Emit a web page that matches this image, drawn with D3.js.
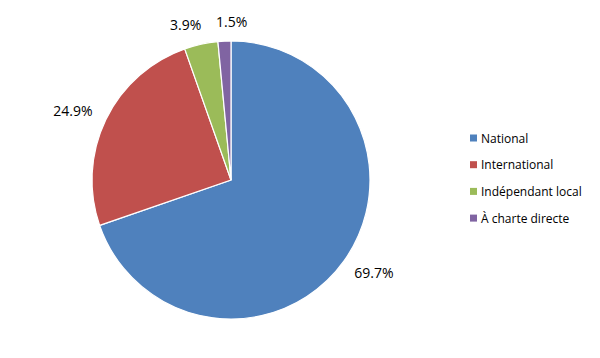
<!DOCTYPE html>
<html><head><meta charset="utf-8">
<script src="https://cdn.jsdelivr.net/npm/d3@7/dist/d3.min.js"></script>
<style>body{margin:0;background:#fff}svg{display:block}text{font-family:"Open Sans","Noto Sans",sans-serif;fill:#000}</style>
</head><body>
<script>
const categories = ["National", "International", "Indépendant local", "À charte directe"];
const values = [69.7, 24.9, 3.9, 1.5];
const labels = ["69.7%", "24.9%", "3.9%", "1.5%"];
const colors = ["#4F81BD", "#C0504D", "#9BBB59", "#8064A2"];

const W = 600, H = 358;
const cx = 231, cy = 180, R = 139;
const svg = d3.select("body").append("svg").attr("width", W).attr("height", H);
const g = svg.append("g").attr("transform", `translate(${cx},${cy})`);

const pie = d3.pie().sort(null).value(d => d)(values);
const arc = d3.arc().innerRadius(0).outerRadius(R);
g.selectAll("path").data(pie).join("path")
  .attr("d", arc).attr("fill", (d, i) => colors[i])
  .attr("stroke", "#fff").attr("stroke-width", 1.2);

// outside-end labels: anchor on bisector, box pushed outward
const lbl = g.selectAll("text.lbl").data(pie).join("text").attr("class", "lbl")
  .attr("text-anchor", "middle").attr("dominant-baseline", "central")
  .attr("font-size", 14).text((d, i) => labels[i]);
const rho = 151, hh = 8;
const pos = [];
lbl.each(function (d, i) {
  const a = (d.startAngle + d.endAngle) / 2;
  const hw = this.getComputedTextLength() / 2;
  pos[i] = [Math.sin(a) * (rho + hw * 1.25), -Math.cos(a) * (rho + hh)];
});
// avoid overlap between the two small top labels
const minSep = 46;
const sep = pos[3][0] - pos[2][0];
if (sep < minSep) {
  const mid = (pos[3][0] + pos[2][0]) / 2;
  pos[2][0] = mid - minSep / 2;
  pos[3][0] = mid + minSep / 2;
}
lbl.attr("x", (d, i) => pos[i][0]).attr("y", (d, i) => pos[i][1]);

// legend
const leg = svg.append("g").attr("transform", "translate(470,138)");
const row = leg.selectAll("g").data(categories).join("g")
  .attr("transform", (d, i) => `translate(0,${i * 26.7})`);
row.append("rect").attr("x", 0).attr("y", -3.5).attr("width", 7).attr("height", 7)
  .attr("fill", (d, i) => colors[i]);
row.append("text").attr("x", 11).attr("y", 0).attr("dominant-baseline", "central")
  .attr("font-size", 12).text(d => d);
</script>
</body></html>
